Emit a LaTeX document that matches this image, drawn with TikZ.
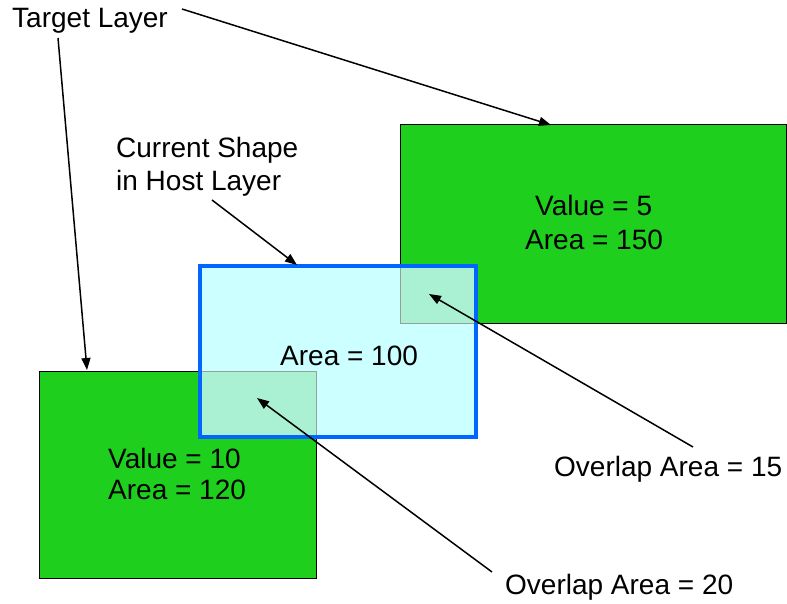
\documentclass[tikz,border=0pt]{standalone}
\usepackage{fontspec}
\setmainfont{Liberation Sans}
\usetikzlibrary{arrows.meta}
\definecolor{grn}{RGB}{30,207,30}
\definecolor{cyanfill}{RGB}{204,255,255}
\definecolor{bluebd}{RGB}{0,102,255}
\definecolor{ovfill}{RGB}{170,240,210}
\definecolor{ovbd}{RGB}{150,160,155}
\tikzset{
  lbl/.style={inner sep=0pt, anchor=base west, font=\fontsize{28}{33}\selectfont},
  greenbox/.style={fill=grn, draw=black, line width=1pt},
  arr/.style={line width=1.5pt, -{Triangle[length=12pt,width=9pt]}},
}
\begin{document}
\begin{tikzpicture}[x=1pt,y=-1pt]
\useasboundingbox (0,0) rectangle (787,604);
% shapes
\draw[greenbox] (400,125) rectangle (786,323);
\draw[greenbox] (39,371) rectangle (316,578);
\fill[cyanfill] (200,266) rectangle (476,437);
\draw[fill=ovfill, draw=ovbd, line width=1pt] (400,266) rectangle (476,323);
\draw[fill=ovfill, draw=ovbd, line width=1pt] (200,371) rectangle (316,437);
\draw[bluebd, line width=4pt] (200,266) rectangle (476,437);
% texts
\node[lbl] (tl) at (12,28) {Target Layer};
\node[lbl] (cs1) at (116,158) {Current Shape};
\node[lbl] (cs2) at (116,191) {in Host Layer};
\node[lbl] (v5) at (535,216) {Value = 5};
\node[lbl] (a150) at (525,250) {Area = 150};
\node[lbl] (a100) at (280,365) {Area = 100};
\node[lbl] (v10) at (108,468) {Value = 10};
\node[lbl] (a120) at (108,499) {Area = 120};
\node[lbl] (o15) at (554,476) {Overlap Area = 15};
\node[lbl] (o20) at (505,594) {Overlap Area = 20};
% arrow endpoints
\coordinate (tlA) at (182,9);
\coordinate (tlB) at (58,38);
\coordinate (bigtop) at (551,125);
\coordinate (smalltop) at (87,370);
\coordinate (csA) at (212,200);
\coordinate (bluetop) at (297,265);
\coordinate (o15A) at (693,447);
\coordinate (o15B) at (429,294);
\coordinate (o20A) at (492,572);
\coordinate (o20B) at (257,398);
\draw[arr] (tlA) -- (bigtop);
\draw[arr] (tlB) -- (smalltop);
\draw[arr] (csA) -- (bluetop);
\draw[arr] (o15A) -- (o15B);
\draw[arr] (o20A) -- (o20B);
\end{tikzpicture}
\end{document}
